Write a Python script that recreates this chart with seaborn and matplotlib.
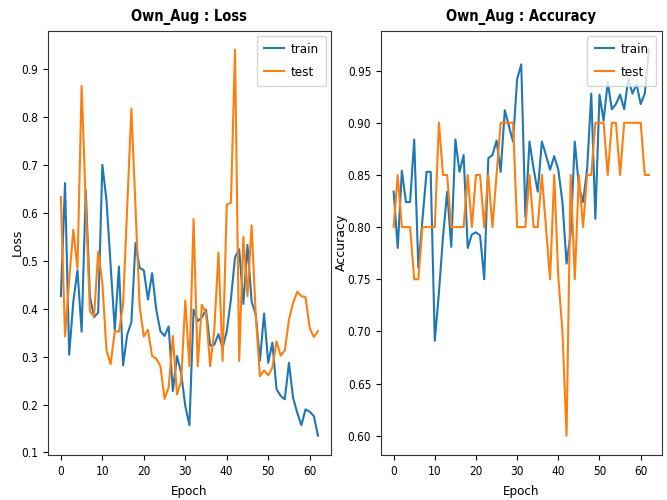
import numpy as np
import pandas as pd
import matplotlib
matplotlib.use("Agg")
import matplotlib.pyplot as plt
import seaborn as sns

epochs = list(range(63))

loss_train = [0.426, 0.662, 0.304, 0.415, 0.480, 0.352, 0.647, 0.426, 0.382, 0.392,
              0.700, 0.626, 0.490, 0.356, 0.488, 0.282, 0.346, 0.372, 0.537, 0.485,
              0.480, 0.419, 0.474, 0.398, 0.353, 0.343, 0.363, 0.228, 0.301, 0.266,
              0.197, 0.157, 0.398, 0.374, 0.382, 0.398, 0.323, 0.325, 0.347, 0.318,
              0.353, 0.419, 0.507, 0.524, 0.410, 0.533, 0.415, 0.388, 0.291, 0.390,
              0.287, 0.329, 0.232, 0.218, 0.211, 0.287, 0.214, 0.183, 0.157, 0.190,
              0.185, 0.176, 0.135]

loss_test = [0.633, 0.342, 0.460, 0.565, 0.484, 0.865, 0.620, 0.394, 0.384, 0.519,
             0.453, 0.313, 0.284, 0.353, 0.352, 0.408, 0.613, 0.817, 0.610, 0.404,
             0.342, 0.356, 0.301, 0.296, 0.280, 0.212, 0.236, 0.343, 0.221, 0.249,
             0.417, 0.280, 0.587, 0.280, 0.408, 0.391, 0.280, 0.356, 0.517, 0.291,
             0.617, 0.621, 0.940, 0.291, 0.550, 0.426, 0.574, 0.384, 0.259, 0.271,
             0.261, 0.277, 0.332, 0.302, 0.313, 0.377, 0.412, 0.435, 0.426, 0.424,
             0.360, 0.341, 0.353]

acc_train = [0.834, 0.780, 0.854, 0.824, 0.824, 0.884, 0.761, 0.807, 0.853, 0.853,
             0.691, 0.737, 0.791, 0.834, 0.781, 0.884, 0.853, 0.869, 0.780, 0.793,
             0.795, 0.792, 0.750, 0.866, 0.869, 0.883, 0.853, 0.912, 0.897, 0.882,
             0.942, 0.956, 0.810, 0.882, 0.856, 0.834, 0.882, 0.869, 0.855, 0.868,
             0.855, 0.824, 0.765, 0.794, 0.882, 0.839, 0.824, 0.856, 0.928, 0.808,
             0.927, 0.902, 0.939, 0.913, 0.918, 0.927, 0.913, 0.942, 0.928, 0.937,
             0.918, 0.928, 0.970]

acc_test = [0.80, 0.85, 0.80, 0.80, 0.80, 0.75, 0.75, 0.80, 0.80, 0.80,
            0.80, 0.90, 0.85, 0.85, 0.80, 0.80, 0.80, 0.80, 0.85, 0.80,
            0.85, 0.85, 0.80, 0.85, 0.80, 0.85, 0.90, 0.90, 0.90, 0.90,
            0.80, 0.80, 0.80, 0.85, 0.80, 0.80, 0.85, 0.80, 0.75, 0.85,
            0.752, 0.70, 0.60, 0.85, 0.75, 0.85, 0.80, 0.85, 0.85, 0.90,
            0.90, 0.90, 0.85, 0.90, 0.90, 0.85, 0.90, 0.90, 0.90, 0.90,
            0.90, 0.85, 0.85]

series_names = ["train", "test"]
titles = ["Own_Aug : Loss", "Own_Aug : Accuracy"]
ylabels = ["Loss", "Accuracy"]

plt.rcParams["font.family"] = ["DejaVu Sans"]
plt.rcParams["font.stretch"] = "condensed"
plt.rcParams["axes.edgecolor"] = "#333333"

fig = plt.figure(figsize=(6.67, 5.0), dpi=100)
ax1 = fig.add_axes([0.072, 0.09, 0.424, 0.849])
ax2 = fig.add_axes([0.571, 0.09, 0.421, 0.849])

palette = {"train": "#1f77b4", "test": "#ff7f0e"}

label_x = [-0.085, -0.116]
for i, (ax, tr, te, title, yl) in enumerate([(ax1, loss_train, loss_test, titles[0], ylabels[0]),
                                             (ax2, acc_train, acc_test, titles[1], ylabels[1])]):
    df = pd.DataFrame({
        "Epoch": epochs + epochs,
        "value": tr + te,
        "series": [series_names[0]] * len(epochs) + [series_names[1]] * len(epochs),
    })
    sns.lineplot(data=df, x="Epoch", y="value", hue="series", palette=palette,
                 ax=ax, linewidth=1.5, legend=True)
    ax.set_title(title, fontsize=10.5, fontweight="bold", pad=7)
    ax.set_ylabel(yl, fontsize=9, fontstretch="normal")
    ax.set_xlabel("Epoch", fontsize=9.5)
    ax.yaxis.set_label_coords(label_x[i], 0.5)
    ax.xaxis.set_label_coords(0.5, -0.07)
    ax.tick_params(labelsize=8.5)
    ax.set_xticks([0, 10, 20, 30, 40, 50, 60])
    ax.legend(loc="upper right", fontsize=9.5, handlelength=1.5,
              handletextpad=0.5, borderpad=0.55, labelspacing=0.75,
              borderaxespad=0.4)

fig.savefig("out.png", dpi=100)
